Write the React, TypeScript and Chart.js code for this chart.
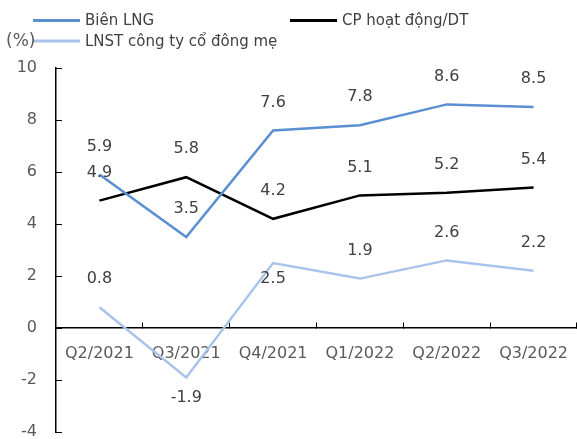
import { useEffect, useRef } from "react";
import { Chart, registerables } from "chart.js";

Chart.register(...registerables);

const categories = ["Q2/2021", "Q3/2021", "Q4/2021", "Q1/2022", "Q2/2022", "Q3/2022"];
const bienLNG = [5.9, 3.5, 7.6, 7.8, 8.6, 8.5];
const cpHoatDong = [4.9, 5.8, 4.2, 5.1, 5.2, 5.4];
const lnstCongTyMe = [0.8, -1.9, 2.5, 1.9, 2.6, 2.2];
const seriesNames = ["Biên LNG", "CP hoạt động/DT", "LNST công ty cổ đông mẹ"];
const yTicks = [-4, -2, 0, 2, 4, 6, 8, 10];
const unitLabel = "(%)";
// which value labels sit under their point instead of above it
const labelBelow = [
  [false, false, false, false, false, false],
  [false, false, false, false, false, false],
  [false, true, true, false, false, false],
];

const FONT = "DejaVu Sans";
const colors = ["#5A8FD2", "#000000", "#A9C3EA"];

export default function App() {
  const ref = useRef<HTMLCanvasElement | null>(null);

  useEffect(() => {
    document.body.style.margin = "0";
    const canvas = ref.current;
    if (!canvas) return;

    const valueLabels = {
      id: "valueLabels",
      afterDatasetsDraw(chart: any) {
        const ctx = chart.ctx;
        ctx.save();
        ctx.font = `16px "${FONT}"`;
        ctx.fillStyle = "#404040";
        ctx.textAlign = "center";
        ctx.textBaseline = "middle";
        chart.data.datasets.forEach((ds: any, di: number) => {
          const meta = chart.getDatasetMeta(di);
          meta.data.forEach((pt: any, i: number) => {
            const v = ds.data[i];
            const below = labelBelow[di][i];
            const y = below ? pt.y + (v < 0 ? 20 : 16) : pt.y - 28;
            ctx.fillText(v.toFixed(1), pt.x, y);
          });
        });
        ctx.restore();
      },
    };

    const legendPlugin = {
      id: "customLegend",
      afterDraw(chart: any) {
        const ctx = chart.ctx;
        ctx.save();
        ctx.font = `15px "${FONT}"`;
        ctx.textBaseline = "middle";
        ctx.textAlign = "left";
        const items = [
          { x: 33, y: 20.5 },
          { x: 290, y: 20.5 },
          { x: 33, y: 41 },
        ];
        chart.data.datasets.forEach((ds: any, i: number) => {
          const p = items[i];
          ctx.strokeStyle = ds.borderColor;
          ctx.lineWidth = 3;
          ctx.beginPath();
          ctx.moveTo(p.x, p.y);
          ctx.lineTo(p.x + 47, p.y);
          ctx.stroke();
          ctx.fillStyle = "#404040";
          ctx.fillText(ds.label, p.x + 52, p.y + 1);
        });
        ctx.font = `17px "${FONT}"`;
        ctx.fillStyle = "#595959";
        ctx.fillText(unitLabel, 6, 42);
        ctx.restore();
      },
    };

    const chart = new Chart(canvas, {
      type: "line",
      data: {
        labels: categories,
        datasets: [bienLNG, cpHoatDong, lnstCongTyMe].map((d, i) => ({
          label: seriesNames[i],
          data: d,
          borderColor: colors[i],
          backgroundColor: colors[i],
          borderWidth: 2.5,
          pointRadius: 0,
          tension: 0,
          fill: false,
        })),
      },
      options: {
        responsive: false,
        animation: false,
        devicePixelRatio: 1,
        layout: { padding: { top: 68, bottom: 7, left: 0, right: 0 } },
        plugins: { legend: { display: false }, tooltip: { enabled: false } },
        scales: {
          x: {
            type: "category",
            offset: true,
            position: { y: 0 } as any,
            afterFit(s: any) {
              s.paddingLeft = 0;
              s.paddingRight = 0;
            },
            grid: {
              offset: true,
              drawOnChartArea: false,
              drawTicks: true,
              tickLength: -6,
              color: "#000",
              lineWidth: 1,
            },
            border: { display: true, color: "#000", width: 1.5 },
            ticks: {
              color: "#595959",
              font: { family: FONT, size: 16 },
              padding: 22,
              maxRotation: 0,
              autoSkip: false,
            },
          },
          y: {
            min: -4,
            max: 10,
            afterBuildTicks(s: any) {
              s.ticks = yTicks.map((v) => ({ value: v }));
            },
            afterFit(s: any) {
              s.width = 56;
              s.paddingTop = 0;
              s.paddingBottom = 0;
            },
            grid: {
              drawOnChartArea: false,
              drawTicks: true,
              tickLength: -6,
              color: "#000",
              lineWidth: 1,
            },
            border: { display: true, color: "#000", width: 1.5 },
            ticks: {
              color: "#595959",
              font: { family: FONT, size: 16 },
              padding: 25,
            },
          },
        },
      },
      plugins: [valueLabels, legendPlugin],
    });
    return () => chart.destroy();
  }, []);

  return (
    <div style={{ width: 577, height: 439, background: "#fff" }}>
      <canvas ref={ref} width={577} height={439} />
    </div>
  );
}
